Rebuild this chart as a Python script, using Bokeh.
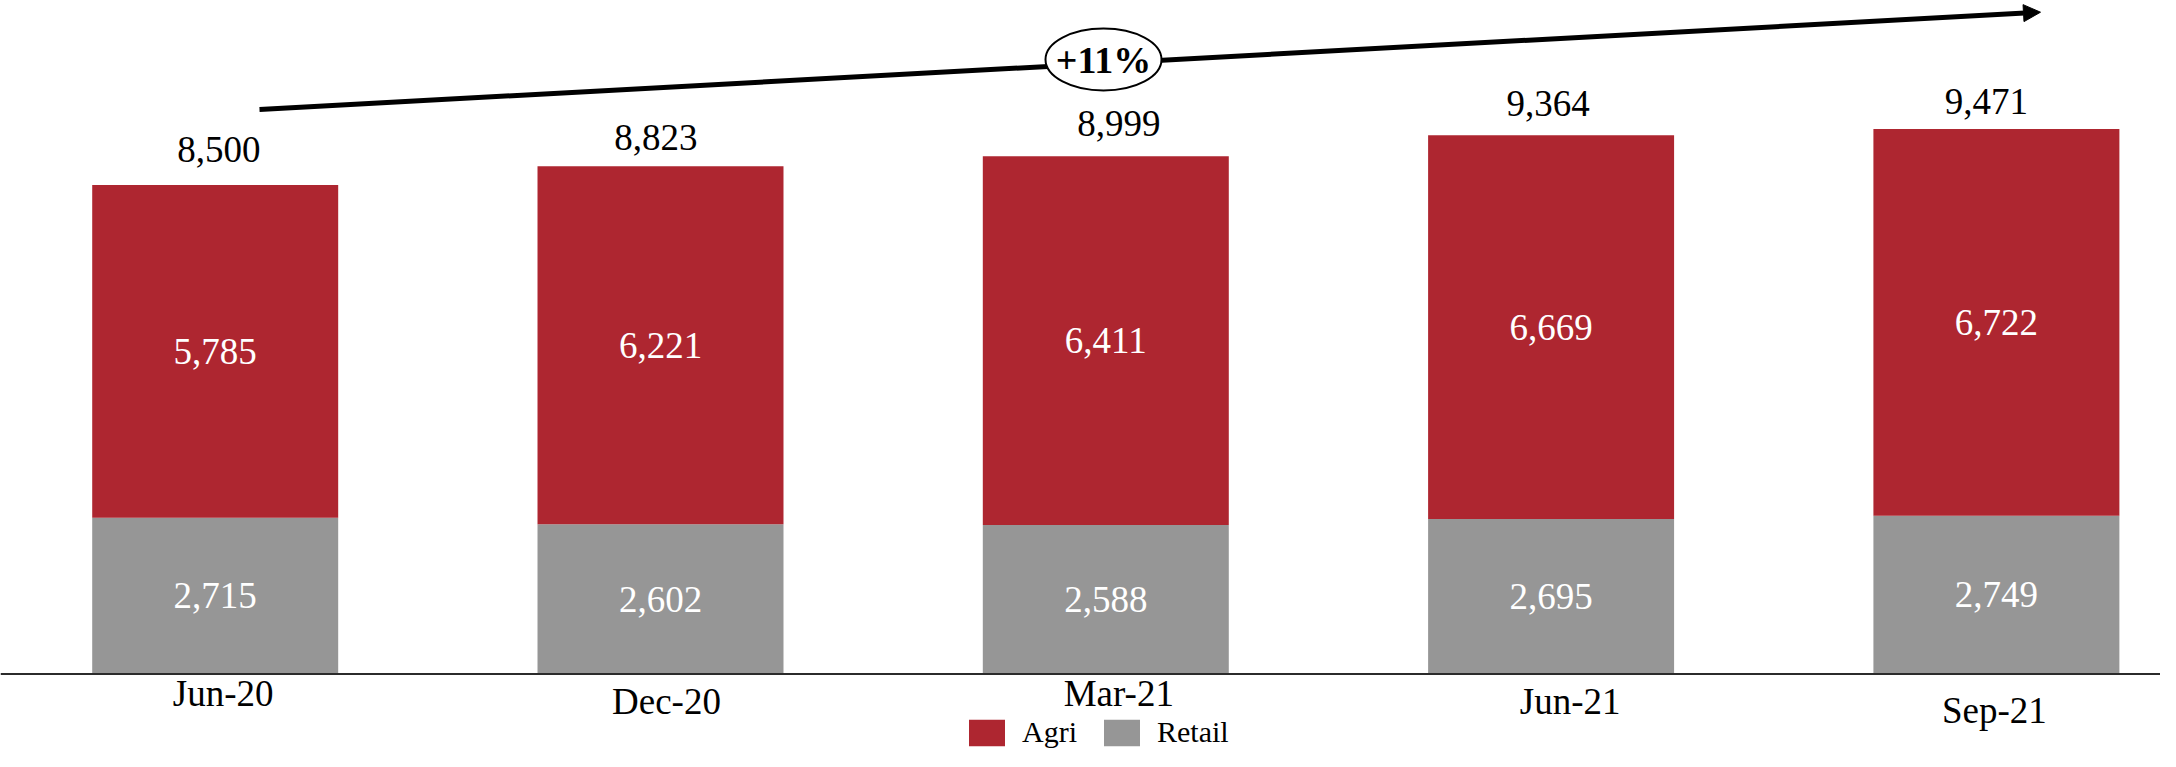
import numpy as np
from bokeh.plotting import figure
from bokeh.models import ColumnDataSource, Span, Arrow, NormalHead, Legend, LegendItem, Range1d
from bokeh.core.properties import value
from bokeh.embed import file_html
from bokeh.resources import INLINE

# ---------------- data ----------------
categories = ["Jun-20", "Dec-20", "Mar-21", "Jun-21", "Sep-21"]
retail = [2715, 2602, 2588, 2695, 2749]
agri = [5785, 6221, 6411, 6669, 6722]
totals = [8500, 8823, 8999, 9364, 9471]
growth_label = "+11%"

# ---------------- styles / layout ----------------
AGRI_COLOR = "#AE2630"
RETAIL_COLOR = "#969696"
FONT = "Liberation Serif"
W, H = 2160, 751
PX_PER_X = 445.3
X0 = -214.7 / PX_PER_X
PX_PER_Y = 0.05754
Y_TOP = 673.5 / PX_PER_Y
BAR_W = 0.5524

total_gap_px = [35, 28.5, 32.5, 32, 27.5]
total_dx_px = [3.6, -4.7, 13, -3, -10]
cat_dy_px = [19, 27.5, 19, 27, 36]
cat_dx_px = [8, 6, 13, 19, -2]


def dx(px):
    return X0 + px / PX_PER_X


def dy(py):
    return Y_TOP - py / PX_PER_Y


x = list(range(len(categories)))
src = ColumnDataSource(dict(
    x=x, cat=categories, retail=retail, agri=agri, total=totals,
    total_txt=[f"{v:,}" for v in totals],
    agri_txt=[f"{v:,}" for v in agri],
    retail_txt=[f"{v:,}" for v in retail],
    agri_mid=[r + a / 2 for r, a in zip(retail, agri)],
    retail_mid=[r / 2 for r in retail],
    zero=[0] * len(categories),
    total_yoff=[-g for g in total_gap_px],
    total_xoff=total_dx_px,
    cat_yoff=cat_dy_px,
    cat_xoff=cat_dx_px,
))

p = figure(width=W, height=H, output_backend="svg", toolbar_location=None,
           x_range=Range1d(X0, X0 + W / PX_PER_X),
           y_range=Range1d(Y_TOP - H / PX_PER_Y, Y_TOP),
           min_border=0, min_border_left=0, min_border_right=0,
           min_border_top=0, min_border_bottom=0)
p.xaxis.visible = False
p.yaxis.visible = False
p.xgrid.visible = False
p.ygrid.visible = False
p.outline_line_color = None
p.background_fill_color = "white"
p.border_fill_color = "white"

rs = p.vbar_stack(["retail", "agri"], x="x", width=BAR_W, source=src,
                  color=[RETAIL_COLOR, AGRI_COLOR], line_alpha=0)
r_retail, r_agri = rs

# axis line
p.add_layout(Span(location=0, dimension="width", line_color="#2b2b2b", line_width=2))

# segment labels
p.text(x="x", y="agri_mid", text="agri_txt", source=src, text_color="white",
       text_font=value(FONT), text_font_size="37px", text_align="center",
       text_baseline="middle")
p.text(x="x", y="retail_mid", text="retail_txt", source=src, text_color="white",
       text_font=value(FONT), text_font_size="37px", text_align="center",
       text_baseline="middle")
# totals
p.text(x="x", y="total", text="total_txt", source=src, text_color="black",
       text_font=value(FONT), text_font_size="37px", text_align="center",
       text_baseline="middle", x_offset="total_xoff", y_offset="total_yoff")
# category labels
p.text(x="x", y="zero", text="cat", source=src, text_color="black",
       text_font=value(FONT), text_font_size="37px", text_align="center",
       text_baseline="middle", x_offset="cat_xoff", y_offset="cat_yoff")

# growth arrow
arrow = Arrow(x_start=dx(259), y_start=dy(109), x_end=dx(2040), y_end=dy(11.7),
              line_width=5, line_color="black",
              end=NormalHead(size=17, fill_color="black", line_color="black", line_width=1),
              level="underlay")
p.add_layout(arrow)
p.ellipse(x=[dx(1103)], y=[dy(59)], width=116, height=62,
          width_units="screen", height_units="screen",
          fill_color="white", line_color="black", line_width=2)
p.text(x=[dx(1103)], y=[dy(59)], text=[growth_label], text_color="black",
       text_font=value(FONT), text_font_size="38px", text_font_style="bold",
       text_align="center", text_baseline="middle")

legend = Legend(items=[LegendItem(label="Agri", renderers=[r_agri]),
                       LegendItem(label="Retail", renderers=[r_retail])],
                orientation="horizontal", location=(964, 2),
                glyph_width=45, glyph_height=33, label_standoff=13, spacing=22,
                padding=0, margin=0, border_line_alpha=0, background_fill_alpha=0,
                label_text_font=FONT, label_text_font_size="30px",
                label_text_color="black", label_height=33)
p.add_layout(legend)

open("out.html", "w").write(file_html(p, INLINE))
